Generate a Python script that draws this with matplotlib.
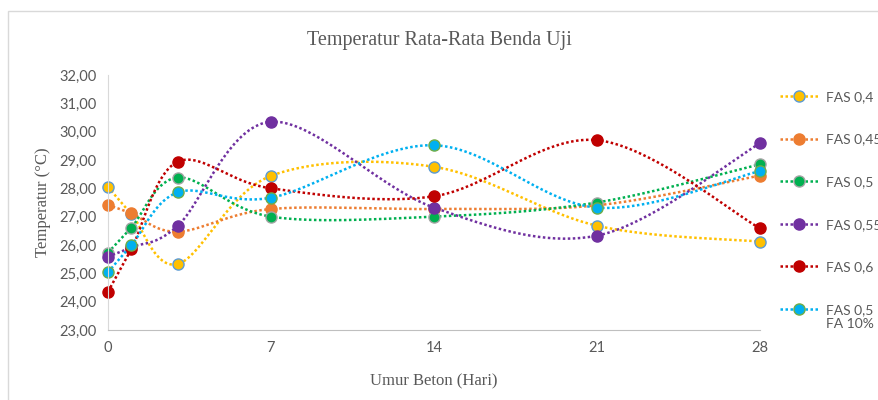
import numpy as np
import matplotlib.pyplot as plt
from matplotlib.lines import Line2D
from matplotlib.patches import Rectangle

days = [0, 1, 3, 7, 14, 21, 28]

fas_040 = [28.05, 27.10, 25.33, 28.44, 28.76, 26.68, 26.12]
fas_045 = [27.41, 27.12, 26.47, 27.27, 27.27, 27.40, 28.45]
fas_050 = [25.73, 26.61, 28.38, 27.00, 27.00, 27.50, 28.85]
fas_055 = [25.59, 25.92, 26.68, 30.35, 27.32, 26.33, 29.59]
fas_060 = [24.35, 25.85, 28.94, 28.00, 27.72, 29.70, 26.59]
fas_050_fa = [25.04, 25.99, 27.86, 27.67, 29.52, 27.32, 28.61]

labels = ["FAS 0,4", "FAS 0,45", "FAS 0,5", "FAS 0,55", "FAS 0,6", "FAS 0,5"]
last_label_tail = "FA 10%"
colors = ["#FFC000", "#ED7D31", "#00B050", "#7030A0", "#C00000", "#00B0F0"]
edges = ["#5B9BD5", "#ED7D31", "#A5A5A5", "#7030A0", "#C00000", "#70AD47"]

grey = "#595959"

fig = plt.figure(figsize=(8.79, 4.0), dpi=100)
fig.add_artist(Rectangle((8 / 879, -0.1), 1.2, 1.1 - 11 / 400, transform=fig.transFigure,
                         fill=False, edgecolor="#D9D9D9", linewidth=1.0))
ax = fig.add_axes([108 / 879, 70 / 400, 652 / 879, 255 / 400])
ax.set_xlim(0, 28)
ax.set_ylim(23, 32)


def smooth(ax, xs, ys, n=40):
    # Catmull-Rom style bezier smoothing done in display space
    pts = ax.transData.transform(np.column_stack([xs, ys]))
    p = np.vstack([pts[0], pts, pts[-1]])
    out = []
    for i in range(1, len(p) - 2):
        p0, p1, p2, p3 = p[i - 1], p[i], p[i + 1], p[i + 2]
        c1 = p1 + (p2 - p0) / 6
        c2 = p2 - (p3 - p1) / 6
        t = np.linspace(0, 1, n)[:, None]
        seg = ((1 - t) ** 3) * p1 + 3 * ((1 - t) ** 2) * t * c1 + 3 * (1 - t) * t ** 2 * c2 + t ** 3 * p2
        out.append(seg if i == 1 else seg[1:])
    curve = ax.transData.inverted().transform(np.vstack(out))
    return curve[:, 0], curve[:, 1]


series = [fas_040, fas_045, fas_050, fas_055, fas_060, fas_050_fa]
handles = []
for vals, lab, c, ec in zip(series, labels, colors, edges):
    cx, cy = smooth(ax, days, vals)
    ax.plot(cx, cy, color=c, lw=1.8, linestyle=(0, (1, 1)), clip_on=False)
    ax.plot(days, vals, linestyle="none", marker="o", ms=8, markerfacecolor=c,
            markeredgecolor=ec, markeredgewidth=1.0, clip_on=False)
    handles.append(Line2D([], [], color=c, lw=1.8, linestyle=(0, (1, 1)), marker="o", ms=8,
                          markerfacecolor=c, markeredgecolor=ec, markeredgewidth=1.0))

ax.set_xticks([0, 7, 14, 21, 28])
ax.set_yticks(np.arange(23, 32.5, 1))
ax.set_yticklabels([f"{v:.2f}".replace(".", ",") for v in np.arange(23, 32.5, 1)])
ax.tick_params(length=0, labelsize=10.5, labelcolor=grey, pad=8)
for lab in ax.get_xticklabels() + ax.get_yticklabels():
    lab.set_fontfamily("Lato")

for s in ["top", "right"]:
    ax.spines[s].set_visible(False)
ax.spines["left"].set_color("#D9D9D9")
ax.spines["bottom"].set_color("#BFBFBF")

ax.set_xlabel("Umur Beton (Hari)", family="Liberation Serif", fontsize=12, color=grey, labelpad=13)
ax.set_ylabel("Temperatur (\u00b0C)", family="Liberation Serif", fontsize=12, color=grey, labelpad=6)
fig.text(0.5, 0.9, "Temperatur Rata-Rata Benda Uji", ha="center", va="center",
         family="Liberation Serif", fontsize=14.5, color=grey)

leg = fig.legend(handles=handles, labels=labels, loc="upper left", bbox_to_anchor=(780 / 879, 309 / 400),
                 frameon=False, handlelength=2.8, labelspacing=2.2, handletextpad=0.5,
                 borderaxespad=0, borderpad=0, prop={"family": "Lato", "size": 10})
for t in leg.get_texts():
    t.set_color(grey)

# second line of the last legend entry sits under its first line
fig.canvas.draw()
bb = leg.get_texts()[-1].get_window_extent().transformed(fig.transFigure.inverted())
fig.text(bb.x0, bb.y0 - 0.005, last_label_tail, ha="left", va="top",
         family="Lato", fontsize=10, color=grey)

fig.savefig("out.png", dpi=100)
